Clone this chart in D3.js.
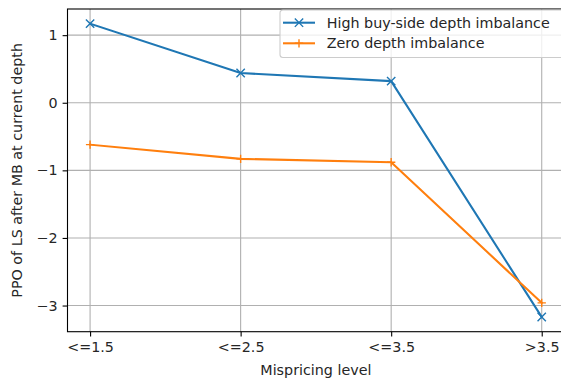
<!DOCTYPE html>
<html>
<head>
<meta charset="utf-8">
<script src="https://cdn.jsdelivr.net/npm/d3@7/dist/d3.min.js"></script>
<style>
  html, body { margin: 0; padding: 0; background: #ffffff; }
  svg { display: block; }
  text { font-family: "DejaVu Sans", sans-serif; fill: #262626; }
</style>
</head>
<body>
<svg id="chart" width="561" height="385"></svg>
<script>
// Mispricing buckets on the x axis
const categories = ["<=1.5", "<=2.5", "<=3.5", ">3.5"];
// PPO of limit sells after a market buy, per bucket
const highBuyImbalance = [1.17, 0.44, 0.32, -3.17];
const zeroImbalance = [-0.62, -0.83, -0.88, -2.96];
const seriesNames = ["High buy-side depth imbalance", "Zero depth imbalance"];
const yTicks = [-3, -2, -1, 0, 1];

const plot = { left: 67.5, right: 564.3, top: 9, bottom: 331.7 };
const fs = 14.3;

const svg = d3.select("#chart");

// categories sit on a 0..1 track, with 5% margins on each side
const x = d3.scalePoint().domain(categories).range([0, 1]);
const xs = d3.scaleLinear().domain([-0.05, 1.05]).range([plot.left, plot.right]);
const xPos = c => xs(x(c));

const allVals = highBuyImbalance.concat(zeroImbalance);
const yMin = d3.min(allVals), yMax = d3.max(allVals);
const pad = (yMax - yMin) * 0.05;
const y = d3.scaleLinear().domain([yMin - pad, yMax + pad]).range([plot.bottom, plot.top]);

const clipId = "plotclip";
svg.append("defs").append("clipPath").attr("id", clipId)
  .append("rect").attr("x", plot.left).attr("y", plot.top)
  .attr("width", plot.right - plot.left).attr("height", plot.bottom - plot.top);

// grid
const grid = svg.append("g");
grid.selectAll("line.gx").data(categories).join("line")
  .attr("x1", d => xPos(d)).attr("x2", d => xPos(d))
  .attr("y1", plot.top).attr("y2", plot.bottom)
  .attr("stroke", "#b0b0b0").attr("stroke-width", 1.1);
grid.selectAll("line.gy").data(yTicks).join("line")
  .attr("x1", plot.left).attr("x2", plot.right)
  .attr("y1", d => y(d)).attr("y2", d => y(d))
  .attr("stroke", "#b0b0b0").attr("stroke-width", 1.1);

// series
const series = [
  { name: seriesNames[0], values: highBuyImbalance, color: "#1f77b4", marker: "x" },
  { name: seriesNames[1], values: zeroImbalance, color: "#ff7f0e", marker: "+" }
];

const line = d3.line().x((d, i) => xPos(categories[i])).y(d => y(d));
const ms = 4.17;

function drawMarker(g, cx, cy, type, color) {
  const d = type === "x"
    ? `M${cx - ms},${cy - ms}L${cx + ms},${cy + ms}M${cx - ms},${cy + ms}L${cx + ms},${cy - ms}`
    : `M${cx - ms},${cy}L${cx + ms},${cy}M${cx},${cy - ms}L${cx},${cy + ms}`;
  g.append("path").attr("d", d)
    .attr("stroke", color).attr("stroke-width", 1.4).attr("fill", "none");
}

const marks = svg.append("g").attr("clip-path", `url(#${clipId})`);
series.forEach(s => {
  const g = marks.append("g");
  g.append("path").datum(s.values)
    .attr("d", line)
    .attr("fill", "none").attr("stroke", s.color).attr("stroke-width", 2.08)
    .attr("stroke-linejoin", "round").attr("stroke-linecap", "square");
  s.values.forEach((v, i) => drawMarker(g, xPos(categories[i]), y(v), s.marker, s.color));
});

// spines
svg.append("rect")
  .attr("x", plot.left).attr("y", plot.top)
  .attr("width", plot.right - plot.left).attr("height", plot.bottom - plot.top)
  .attr("fill", "none").attr("stroke", "#000").attr("stroke-width", 1.1);

// axes
const xAxis = d3.axisBottom(d3.scaleOrdinal().domain(categories).range(categories.map(xPos)))
  .tickSizeInner(4.9).tickSizeOuter(0).tickPadding(4.9);
const gx = svg.append("g").attr("transform", `translate(0,${plot.bottom})`).call(xAxis);
gx.select(".domain").remove();
gx.selectAll(".tick line").attr("stroke", "#000").attr("stroke-width", 1.1);
gx.selectAll(".tick text").attr("font-size", fs).attr("font-family", "DejaVu Sans").attr("fill", "#262626");

const yAxis = d3.axisLeft(y).tickValues(yTicks)
  .tickFormat(d => d < 0 ? "\u2212" + Math.abs(d) : String(d))
  .tickSizeInner(4.9).tickSizeOuter(0).tickPadding(4.9);
const gy = svg.append("g").attr("transform", `translate(${plot.left},0)`).call(yAxis);
gy.select(".domain").remove();
gy.selectAll(".tick line").attr("stroke", "#000").attr("stroke-width", 1.1);
gy.selectAll(".tick text").attr("font-size", fs).attr("font-family", "DejaVu Sans").attr("fill", "#262626");

// axis titles
svg.append("text")
  .attr("x", (plot.left + plot.right) / 2).attr("y", 375)
  .attr("text-anchor", "middle").attr("font-size", fs)
  .text("Mispricing level");
svg.append("text")
  .attr("transform", `translate(22,${(plot.top + plot.bottom) / 2}) rotate(-90)`)
  .attr("text-anchor", "middle").attr("font-size", fs)
  .text("PPO of LS after MB at current depth");

// legend
const leg = svg.append("g").attr("transform", "translate(280,10)");
leg.append("rect")
  .attr("x", 0).attr("y", 0).attr("width", 300).attr("height", 47.5)
  .attr("rx", 3).attr("ry", 3)
  .attr("fill", "#ffffff").attr("fill-opacity", 0.8)
  .attr("stroke", "#cccccc").attr("stroke-width", 1.1);
series.forEach((s, i) => {
  const cy = 12.7 + i * 20.6;
  const row = leg.append("g");
  row.append("line").attr("x1", 3).attr("x2", 35).attr("y1", cy).attr("y2", cy)
    .attr("stroke", s.color).attr("stroke-width", 2.08);
  drawMarker(row, 19, cy, s.marker, s.color);
  row.append("text").attr("x", 46.7).attr("y", cy).attr("dy", "0.36em")
    .attr("font-size", fs).text(s.name);
});
</script>
</body>
</html>
